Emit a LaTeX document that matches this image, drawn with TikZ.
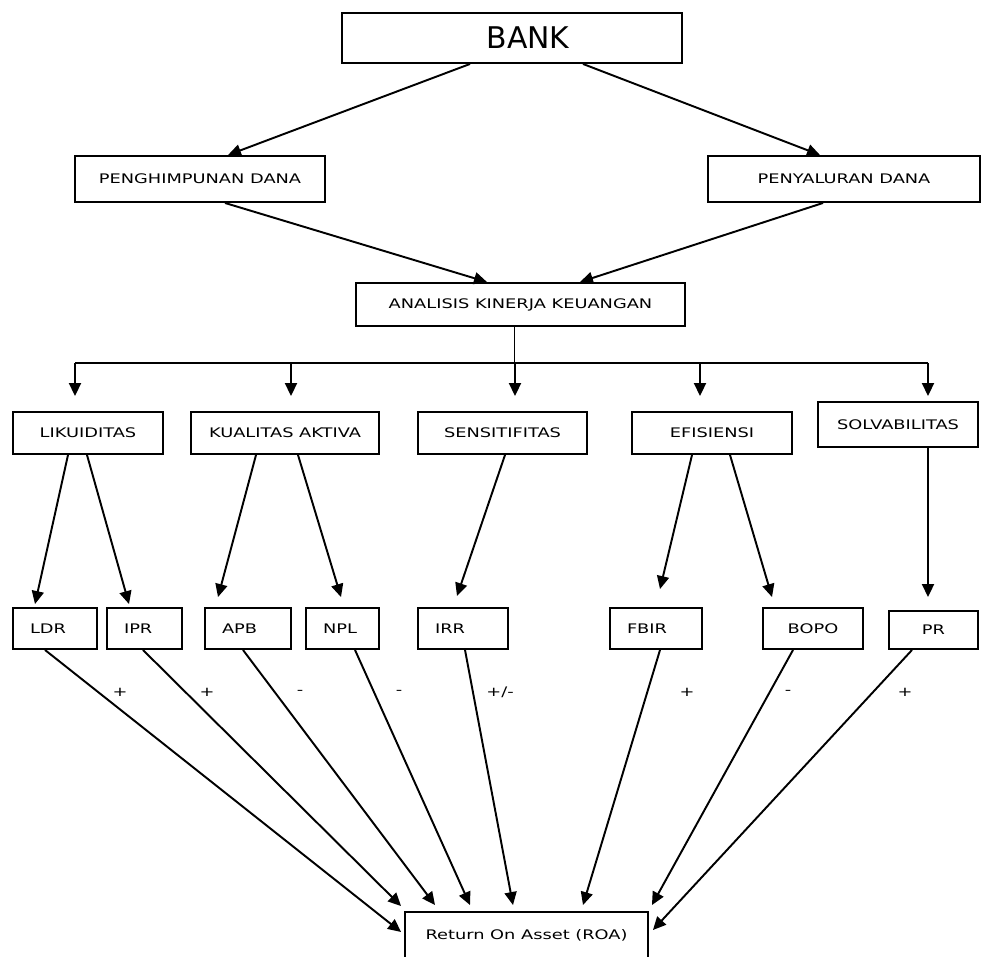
\documentclass[tikz,border=0pt]{standalone}
\usepackage{fontspec}
\usetikzlibrary{arrows.meta,positioning,calc}
\newfontfamily\labfont[FakeStretch=1.35]{DejaVu Sans}
\newfontfamily\bankfont{DejaVu Sans}

\begin{document}
\begin{tikzpicture}[
  x=0.02cm, y=-0.02cm,
  box/.style={
    rectangle, draw=black, line width=1.1pt, fill=white,
    minimum height=0.84cm, inner sep=0pt, align=center,
    font=\labfont\fontsize{7.5}{9}\selectfont
  },
  lbox/.style={box, text width=#1, align=left, inner xsep=0.34cm, minimum height=0.82cm},
  sign/.style={font=\labfont\fontsize{7.5}{9}\selectfont, inner sep=0pt},
  arr/.style={-{Triangle[length=0.26cm,width=0.24cm]}, line width=1.1pt},
  line/.style={line width=1.1pt},
]
  \useasboundingbox (0,0) rectangle (982,956);

  % Top of the tree
  \node[box, minimum width=6.8cm, minimum height=1.0cm, text width=6.8cm, font=\bankfont\fontsize{17}{20}\selectfont] (bank) at (512,38) {\hspace*{0.64cm}BANK};
  \node[box, minimum width=5.0cm, minimum height=0.92cm] (peng) at (200,179) {PENGHIMPUNAN DANA};
  \node[box, minimum width=5.44cm, minimum height=0.92cm] (peny) at (844,179) {PENYALURAN DANA};
  \node[box, minimum width=6.58cm, minimum height=0.86cm] (kinerja) at (520.5,304.5) {ANALISIS KINERJA KEUANGAN};

  % Aspects
  \node[box, minimum width=3.0cm] (liku) at (88,433) {LIKUIDITAS};
  \node[box, minimum width=3.76cm] (kual) at (285,433) {KUALITAS AKTIVA};
  \node[box, minimum width=3.38cm] (sens) at (502.5,433) {SENSITIFITAS};
  \node[box, minimum width=3.2cm] (efis) at (712,433) {EFISIENSI};
  \node[box, minimum width=3.2cm, minimum height=0.9cm] (solv) at (898,424.5) {SOLVABILITAS};

  % Ratios
  \node[lbox=1.0cm] (ldr) at (55,628.5) {LDR};
  \node[lbox=0.82cm] (ipr) at (144.5,628.5) {IPR};
  \node[lbox=1.04cm] (apb) at (248,628.5) {APB};
  \node[lbox=0.78cm] (npl) at (342.5,628.5) {NPL};
  \node[lbox=1.12cm] (irr) at (463,628.5) {IRR};
  \node[lbox=1.16cm] (fbir) at (656,628.5) {FBIR};
  \node[box, minimum width=2.0cm, minimum height=0.82cm] (bopo) at (813,628.5) {BOPO};
  \node[box, minimum width=1.78cm, minimum height=0.76cm] (pr) at (933.5,630) {PR};

  % Result
  \node[box, minimum width=4.86cm, minimum height=0.92cm] (roa) at (526.5,935) {Return On Asset (ROA)};

  % Signs
  \node[sign] (sgnldr) at (120,692) {+};
  \node[sign] (sgnipr) at (207,692) {+};
  \node[sign] (sgnapb) at (300,692) {-};
  \node[sign] (sgnnpl) at (399,692) {-};
  \node[sign] (sgnirr) at (500,692) {+/-};
  \node[sign] (sgnfbir) at (687,692) {+};
  \node[sign] (sgnbopo) at (788,692) {-};
  \node[sign] (sgnpr) at (905,692) {+};

  % Arrows at the top
  \draw[arr] ([xshift=-0.84cm]bank.south) -- ([xshift=0.56cm]peng.north);
  \draw[arr] ([xshift=1.42cm]bank.south) -- ([xshift=-0.48cm]peny.north);
  \draw[arr] ([xshift=0.5cm]peng.south) -- ([xshift=-0.67cm]kinerja.north);
  \draw[arr] ([xshift=-0.42cm]peny.south) -- ([xshift=1.19cm]kinerja.north);

  % Bus to the aspects
  \coordinate (bus) at ([xshift=-0.12cm,yshift=-0.72cm]kinerja.south);
  \draw[line] ([xshift=-0.12cm]kinerja.south) -- (bus);
  \draw[line] ([xshift=-0.26cm]liku.north |- bus) -- ([xshift=0.6cm]solv.north |- bus);
  \draw[arr] ([xshift=-0.26cm]liku.north |- bus) -- ([xshift=-0.26cm,yshift=0.3cm]liku.north);
  \draw[arr] ([xshift=0.12cm]kual.north |- bus) -- ([xshift=0.12cm,yshift=0.3cm]kual.north);
  \draw[arr] ([xshift=0.25cm]sens.north |- bus) -- ([xshift=0.25cm,yshift=0.3cm]sens.north);
  \draw[arr] ([xshift=-0.24cm]efis.north |- bus) -- ([xshift=-0.24cm,yshift=0.3cm]efis.north);
  \draw[arr] ([xshift=0.6cm]solv.north |- bus) -- ([xshift=0.6cm,yshift=0.1cm]solv.north);

  % Aspects to ratios
  \draw[arr] ([xshift=-0.4cm]liku.south) -- ([xshift=-0.4cm,yshift=0.06cm]ldr.north);
  \draw[arr] ([xshift=-0.02cm]liku.south) -- ([xshift=-0.31cm,yshift=0.06cm]ipr.north);
  \draw[arr] ([xshift=-0.58cm]kual.south) -- ([xshift=-0.6cm,yshift=0.2cm]apb.north);
  \draw[arr] ([xshift=0.26cm]kual.south) -- ([xshift=-0.03cm,yshift=0.2cm]npl.north);
  \draw[arr] ([xshift=0.05cm]sens.south) -- ([xshift=-0.12cm,yshift=0.22cm]irr.north);
  \draw[arr] ([xshift=-0.4cm]efis.south) -- ([xshift=0.08cm,yshift=0.36cm]fbir.north);
  \draw[arr] ([xshift=0.36cm]efis.south) -- ([xshift=-0.82cm,yshift=0.2cm]bopo.north);
  \draw[arr] ([xshift=0.6cm]solv.south) -- ([xshift=-0.11cm,yshift=0.26cm]pr.north);

  % Ratios to ROA
  \draw[arr] ([xshift=-0.2cm]ldr.south) -- ([xshift=-0.06cm,yshift=0.06cm]roa.west);
  \draw[arr] ([xshift=-0.03cm]ipr.south) -- ([xshift=-0.06cm,yshift=0.1cm]roa.north west);
  \draw[arr] ([xshift=-0.1cm]apb.south) -- ([xshift=-1.83cm,yshift=0.12cm]roa.north);
  \draw[arr] ([xshift=0.25cm]npl.south) -- ([xshift=-1.13cm,yshift=0.12cm]roa.north);
  \draw[arr] ([xshift=0.04cm]irr.south) -- ([xshift=-0.27cm,yshift=0.12cm]roa.north);
  \draw[arr] ([xshift=0.08cm]fbir.south) -- ([xshift=1.13cm,yshift=0.12cm]roa.north);
  \draw[arr] ([xshift=-0.4cm]bopo.south) -- ([xshift=0.06cm,yshift=0.12cm]roa.north east);
  \draw[arr] ([xshift=-0.43cm]pr.south) -- ([xshift=0.08cm,yshift=0.1cm]roa.east);
\end{tikzpicture}
\end{document}
